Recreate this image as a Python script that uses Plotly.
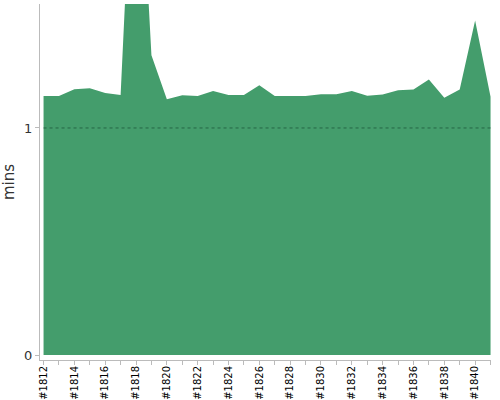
import plotly.graph_objects as go

labels = ["#1812", "#1813", "#1814", "#1815", "#1816", "#1817", "#1818", "#1819",
          "#1820", "#1821", "#1822", "#1823", "#1824", "#1825", "#1826", "#1827",
          "#1828", "#1829", "#1830", "#1831", "#1832", "#1833", "#1834", "#1835",
          "#1836", "#1837", "#1838", "#1839", "#1840", "#1841"]
mins = [1.141, 1.141, 1.170, 1.175, 1.154, 1.145, 2.58, 1.32,
        1.126, 1.144, 1.141, 1.163, 1.145, 1.145, 1.188, 1.141,
        1.141, 1.141, 1.148, 1.148, 1.163, 1.142, 1.147, 1.166,
        1.169, 1.214, 1.133, 1.169, 1.473, 1.137]

x = list(range(len(labels)))
tickvals = x[::2]
ticktext = labels[::2]

fill_color = "rgb(68,157,108)"

fig = go.Figure()
fig.add_trace(go.Scatter(
    x=x, y=mins, mode="lines", fill="tozeroy",
    line=dict(color=fill_color, width=0),
    fillcolor=fill_color, hoverinfo="x+y", showlegend=False,
))

fig.add_shape(type="line", xref="x", yref="y", x0=0, x1=len(labels) - 1, y0=1, y1=1,
              line=dict(color="rgba(30,90,60,0.8)", width=1, dash="dot"), layer="above")

fig.update_layout(
    width=500, height=400,
    margin=dict(l=40, r=9, t=4, b=40),
    paper_bgcolor="white", plot_bgcolor="white",
    font=dict(family="DejaVu Sans", color="#333"),
    xaxis=dict(
        range=[-0.23, len(labels) - 1 + 0.03],
        automargin=False,
        tickmode="array", tickvals=tickvals, ticktext=ticktext,
        tickangle=-90, tickfont=dict(size=10, color="#000"),
        ticklabelstandoff=-3,
        ticks="outside", ticklen=4, tickcolor="#bbb",
        minor=dict(dtick=1, tick0=0, ticks="outside", ticklen=4, tickcolor="#bbb"),
        showline=True, linecolor="#bbb", linewidth=1,
        showgrid=False, zeroline=False,
    ),
    yaxis=dict(
        range=[-0.022, 1.546],
        automargin=False,
        tickmode="array", tickvals=[0, 1], ticktext=["0", "1"],
        tickfont=dict(size=13, color="#333"),
        ticks="outside", ticklen=4, tickcolor="#bbb",
        showline=True, linecolor="#bbb", linewidth=1,
        showgrid=False, zeroline=False,
        title=dict(text="mins", font=dict(size=15, color="#333")),
    ),
)

fig.write_html("out.html", config={"displayModeBar": False},
               post_script="document.body.style.margin='0';")
